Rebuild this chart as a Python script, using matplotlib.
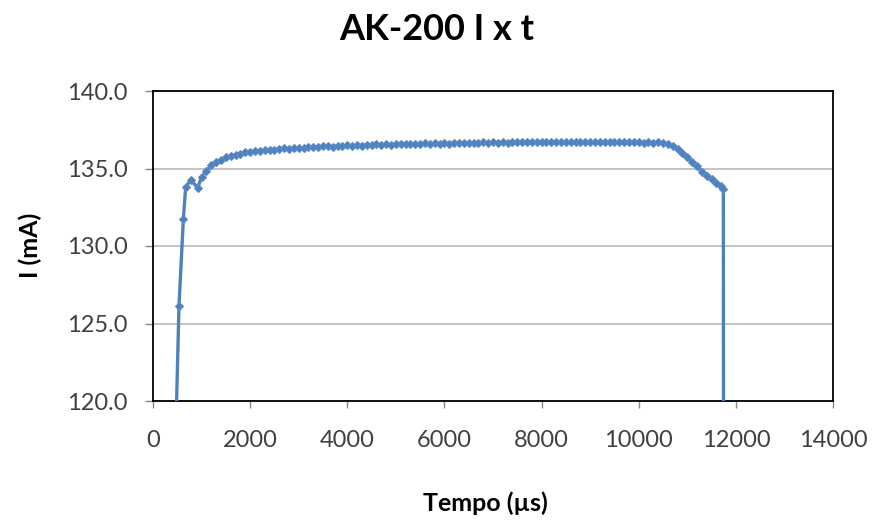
import matplotlib
matplotlib.use("Agg")
import matplotlib.pyplot as plt
from matplotlib.ticker import FormatStrFormatter

plt.rcParams['font.family'] = ['Lato', 'DejaVu Sans']

title = "AK-200 I x t"
xlabel = "Tempo (µs)"
ylabel = "I (mA)"

tempo_us = [430, 535, 625, 673, 776, 920, 1002,
            1100, 1200, 1300, 1400, 1500, 1600, 1700, 1800, 1900, 2000,
            2100, 2200, 2300, 2400, 2500, 2600, 2700, 2800, 2900, 3000,
            3100, 3200, 3300, 3400, 3500, 3600, 3700, 3800, 3900, 4000,
            4100, 4200, 4300, 4400, 4500, 4600, 4700, 4800, 4900, 5000,
            5100, 5200, 5300, 5400, 5500, 5600, 5700, 5800, 5900, 6000,
            6100, 6200, 6300, 6400, 6500, 6600, 6700, 6800, 6900, 7000,
            7100, 7200, 7300, 7400, 7500, 7600, 7700, 7800, 7900, 8000,
            8100, 8200, 8300, 8400, 8500, 8600, 8700, 8800, 8900, 9000,
            9100, 9200, 9300, 9400, 9500, 9600, 9700, 9800, 9900, 10000,
            10100, 10200, 10300, 10400, 10500, 10600, 10700, 10800, 10900, 11000,
            11100, 11200, 11300, 11400, 11500, 11600, 11700, 11742, 11760]

corrente_mA = [113.0, 126.15, 131.74, 133.80, 134.26, 133.76, 134.47,
               134.85, 135.20, 135.42, 135.58, 135.72, 135.80, 135.90, 135.95, 136.04, 136.06,
               136.12, 136.10, 136.18, 136.21, 136.19, 136.26, 136.30, 136.27, 136.33, 136.35,
               136.31, 136.38, 136.40, 136.36, 136.42, 136.45, 136.41, 136.47, 136.44, 136.49,
               136.46, 136.51, 136.48, 136.53, 136.50, 136.55, 136.52, 136.56, 136.53, 136.58,
               136.55, 136.60, 136.56, 136.61, 136.58, 136.62, 136.59, 136.63, 136.60, 136.64,
               136.61, 136.65, 136.62, 136.66, 136.63, 136.67, 136.64, 136.68, 136.65, 136.69,
               136.66, 136.70, 136.67, 136.71, 136.68, 136.72, 136.69, 136.73, 136.70, 136.74,
               136.71, 136.73, 136.70, 136.74, 136.71, 136.73, 136.70, 136.74, 136.71, 136.73,
               136.70, 136.74, 136.71, 136.72, 136.69, 136.73, 136.70, 136.71, 136.68, 136.71,
               136.67, 136.69, 136.66, 136.68, 136.64, 136.58, 136.45, 136.25, 136.00, 135.74,
               135.45, 135.15, 134.78, 134.52, 134.30, 134.08, 133.86, 133.70, 60.0]

x_ticks = [0, 2000, 4000, 6000, 8000, 10000, 12000, 14000]
y_ticks = [120.0, 125.0, 130.0, 135.0, 140.0]

fig = plt.figure(figsize=(8.74, 5.21), dpi=100)
ax = fig.add_axes([153/874, 1 - 401/521, 680/874, 310/521])

ax.plot(tempo_us, corrente_mA, color='#4F81BD', lw=2.4, marker='D',
        markersize=4.2, markeredgewidth=0.8, markerfacecolor='#4F81BD',
        markeredgecolor='#5B8CC6', clip_on=True, zorder=3)

ax.set_xlim(x_ticks[0], x_ticks[-1])
ax.set_ylim(y_ticks[0], y_ticks[-1])
ax.set_xticks(x_ticks)
ax.set_yticks(y_ticks)
ax.yaxis.set_major_formatter(FormatStrFormatter('%.1f'))
ax.grid(axis='y', color='#BFBFBF', lw=1.3, zorder=0)
ax.set_axisbelow(True)

for s in ax.spines.values():
    s.set_color('black')
    s.set_linewidth(1.3)

ax.tick_params(axis='x', direction='out', length=5, width=1, color='#888888',
               labelsize=17, labelcolor='#404040', pad=16)
ax.tick_params(axis='y', direction='out', length=6, width=1, color='#888888',
               labelsize=17, labelcolor='#404040', pad=12)

fig.text(0.5, 1 - 29/521, title, ha='center', va='center', fontsize=26,
         fontweight='bold', color='black')
fig.text(485/874, 1 - 503/521, xlabel, ha='center', va='center', fontsize=18,
         fontweight='bold', color='black')
fig.text(30/874, 1 - 245/521, ylabel, ha='center', va='center', rotation=90,
         fontsize=18, fontweight='bold', color='black')

fig.savefig('out.png', dpi=100)
